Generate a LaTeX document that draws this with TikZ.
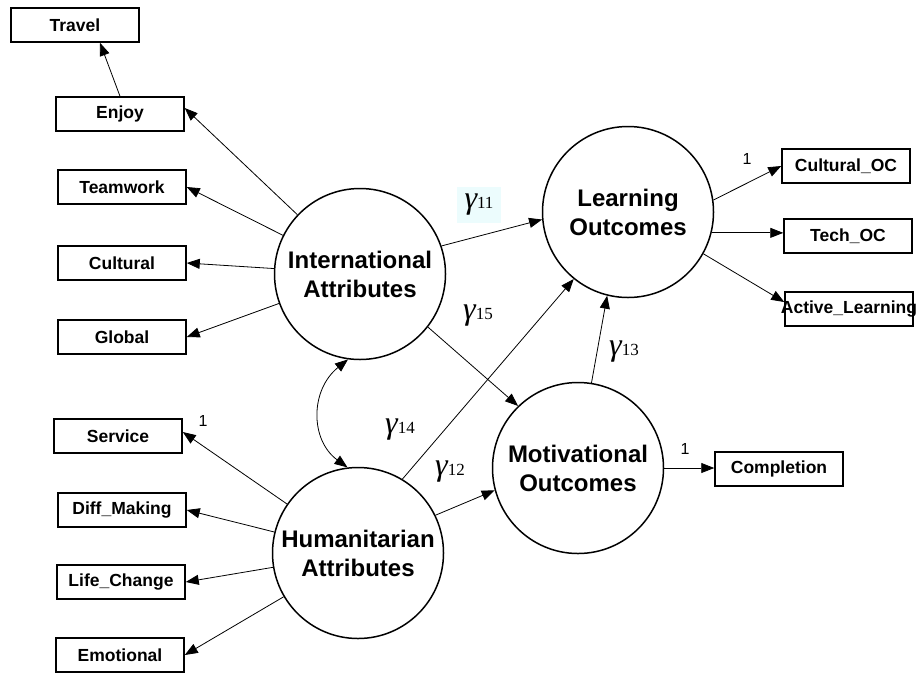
\documentclass[tikz,border=0pt]{standalone}
\usepackage{fontspec}
\setmainfont{Liberation Sans}
\newfontfamily\gfont{Liberation Serif}
\usetikzlibrary{arrows.meta,calc}
\definecolor{gbg}{RGB}{236,252,253}
\newcommand{\gam}[1]{{\fontsize{32}{32}\selectfont\itshape γ}{\fontsize{17}{17}\selectfont #1}}
\begin{document}
\begin{tikzpicture}[x=1pt,y=-1pt,
  obs/.style={draw, line width=1.5pt, minimum width=128pt, minimum height=34pt, inner sep=0pt, font=\bfseries\fontsize{17.5}{20}\selectfont},
  lat/.style={draw, circle, line width=1.5pt, minimum size=171pt, inner sep=0pt, align=center, font=\bfseries\fontsize{24}{29}\selectfont},
  arr/.style={-{Triangle[length=13pt,width=10pt]}, line width=0.8pt},
  darr/.style={{Triangle[length=13pt,width=10pt]}-{Triangle[length=13pt,width=10pt]}, line width=0.8pt},
  glab/.style={inner sep=1pt, font=\gfont},
  one/.style={inner sep=0pt, font=\fontsize{16}{16}\selectfont}]
\useasboundingbox (0,0) rectangle (917,673);
% latent variables
\node[lat] (IA) at (360,274) {International\\Attributes};
\node[lat] (HA) at (358,553) {Humanitarian\\Attributes};
\node[lat] (LO) at (628,212) {Learning\\Outcomes};
\node[lat] (MO) at (578,468) {Motivational\\Outcomes};
% observed variables
\node[obs] (travel) at (75,25) {Travel};
\node[obs] (enjoy) at (120,114) {Enjoy};
\node[obs] (teamwork) at (122,187) {Teamwork};
\node[obs] (cultural) at (122,263) {Cultural};
\node[obs] (global) at (122,337) {Global};
\node[obs] (service) at (118,436) {Service};
\node[obs] (diff) at (122,510) {Diff\_Making};
\node[obs] (life) at (121,582) {Life\_Change};
\node[obs] (emotional) at (120,655) {Emotional};
\node[obs] (culturaloc) at (846,166) {Cultural\_OC};
\node[obs] (techoc) at (848,236) {Tech\_OC};
\node[obs] (active) at (849,309) {\makebox[128pt]{Active\_Learning}};
\node[obs] (completion) at (779,469) {Completion};
% indicator arrows
\draw[arr] (enjoy.north) -- ($(travel.south)+(25,0)$);
\draw[arr] (IA) -- ($(enjoy.east)+(0,-6)$);
\draw[arr] (IA) -- (teamwork.east);
\draw[arr] (IA) -- (cultural.east);
\draw[arr] (IA) -- (global.east);
\draw[arr] (HA) -- ($(service.east)+(0,-4)$);
\draw[arr] (HA) -- (diff.east);
\draw[arr] (HA) -- (life.east);
\draw[arr] (HA) -- (emotional.east);
\draw[arr] (LO.8) -- (culturaloc.west);
\draw[arr] (LO.-14) -- (LO.-14 -| techoc.west);
\draw[arr] (LO.-29) -- ($(active.west)+(0,-7)$);
\draw[arr] (MO.east) -- (MO.east -| completion.west);
% structural paths
\draw[arr] (IA.19.5) -- (LO.185);
\draw[arr] (IA.-38) -- (MO.134);
\draw[arr] (HA.59) -- (LO.231);
\draw[arr] (HA.26) -- (MO.195);
\draw[arr] (MO.81) -- (LO.256);
\draw[darr] (IA.262) .. controls (310,390) and (310,440) .. (HA.97);
% labels
\node[glab, fill=gbg, minimum width=44pt, minimum height=36pt] (g11) at (479,205) {\gam{11}};
\node[glab] (g15) at (478,316) {\gam{15}};
\node[glab] (g14) at (400,430) {\gam{14}};
\node[glab] (g12) at (450,472) {\gam{12}};
\node[glab] (g13) at (624,352) {\gam{13}};
\node[one] (l1) at (203,421) {1};
\node[one] (l2) at (747,159) {1};
\node[one] (l3) at (685,449) {1};
\end{tikzpicture}
\end{document}
